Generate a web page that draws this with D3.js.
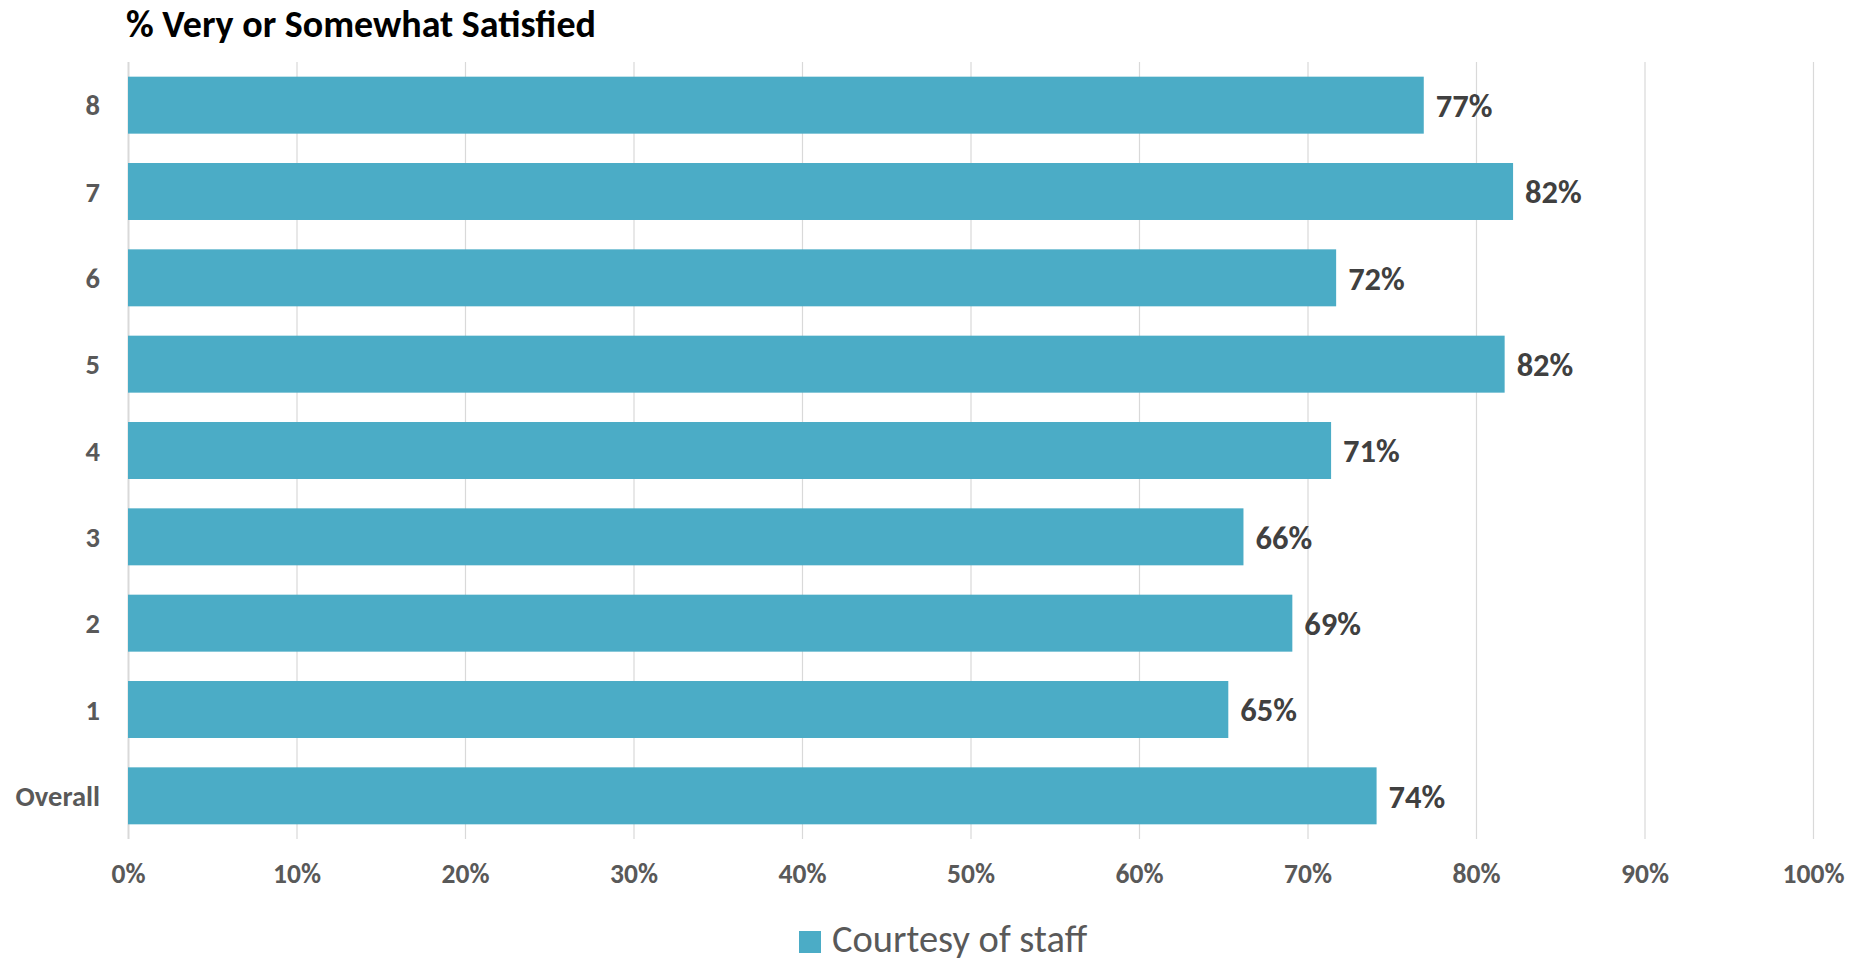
<!DOCTYPE html>
<html>
<head>
<meta charset="utf-8">
<script src="https://cdn.jsdelivr.net/npm/d3@7"></script>
<style>
  html, body { margin: 0; padding: 0; background: #ffffff; }
  svg { display: block; }
  text { font-family: Carlito, Calibri, Lato, "Open Sans", sans-serif; }
</style>
</head>
<body>
<svg id="chart" width="1862" height="962"></svg>
<script>
// Survey groups, top to bottom
const categories = ["8", "7", "6", "5", "4", "3", "2", "1", "Overall"];
// Share of respondents very or somewhat satisfied with courtesy of staff (%)
const satisfied = [76.9, 82.2, 71.7, 81.7, 71.4, 66.2, 69.1, 65.3, 74.1];
// Axis ticks (%)
const xTicks = [0, 10, 20, 30, 40, 50, 60, 70, 80, 90, 100];
const seriesName = "Courtesy of staff";
const chartTitle = "% Very or Somewhat Satisfied";

const barColor = "#4BACC6";
const gridColor = "#D9D9D9";
const axisText = "#595959";
const valueText = "#404040";

const svg = d3.select("#chart");
const plot = { left: 128, right: 1813, top: 62, bottom: 839 };

const x = d3.scaleLinear().domain([0, 100]).range([plot.left, plot.right]);
const y = d3.scaleBand().domain(categories).range([plot.top, plot.bottom])
  .paddingInner(0.34).paddingOuter(0.17);

// Title
svg.append("text")
  .attr("x", 126).attr("y", 37)
  .attr("font-size", 38).attr("font-weight", "bold").attr("fill", "#000")
  .text(chartTitle);

// Vertical gridlines
const grid = svg.append("g").attr("transform", `translate(0,${plot.bottom})`)
  .call(d3.axisBottom(x).tickValues(xTicks).tickSize(-(plot.bottom - plot.top)).tickFormat(""));
grid.select(".domain").remove();
grid.selectAll(".tick line")
  .attr("stroke", gridColor)
  .attr("stroke-width", d => d === 0 ? 2 : 1.2);

// Bottom tick labels
const xAxis = svg.append("g").attr("transform", `translate(0,${plot.bottom})`)
  .call(d3.axisBottom(x).tickValues(xTicks).tickSize(0).tickPadding(44).tickFormat(d => d + "%"));
xAxis.select(".domain").remove();
xAxis.attr("font-family", null).attr("font-size", null);
xAxis.selectAll("text")
  .attr("font-size", 27.5).attr("font-weight", "bold").attr("fill", axisText)
  .attr("dy", null);

// Category labels
const yAxis = svg.append("g").attr("transform", `translate(100,0)`)
  .call(d3.axisLeft(y).tickSize(0).tickPadding(0));
yAxis.select(".domain").remove();
yAxis.attr("font-family", null).attr("font-size", null);
yAxis.selectAll("text")
  .attr("font-size", 28.5).attr("font-weight", "bold").attr("fill", axisText)
  .attr("dy", "0.36em");

// Bars
const rows = categories.map((c, i) => ({ cat: c, value: satisfied[i] }));
svg.append("g").selectAll("rect").data(rows).join("rect")
  .attr("x", x(0))
  .attr("y", d => y(d.cat))
  .attr("width", d => x(d.value) - x(0))
  .attr("height", y.bandwidth())
  .attr("fill", barColor);

// Value labels
svg.append("g").selectAll("text").data(rows).join("text")
  .attr("x", d => x(d.value) + 12)
  .attr("y", d => y(d.cat) + y.bandwidth() / 2)
  .attr("dy", "0.36em")
  .attr("font-size", 32.5).attr("font-weight", "bold").attr("fill", valueText)
  .text(d => Math.round(d.value) + "%");

// Legend
const legend = svg.append("g");
legend.append("rect")
  .attr("x", 799).attr("y", 931).attr("width", 22).attr("height", 22)
  .attr("fill", barColor);
legend.append("text")
  .attr("x", 832).attr("y", 952)
  .attr("font-size", 38.5).attr("fill", axisText)
  .text(seriesName);
</script>
</body>
</html>
